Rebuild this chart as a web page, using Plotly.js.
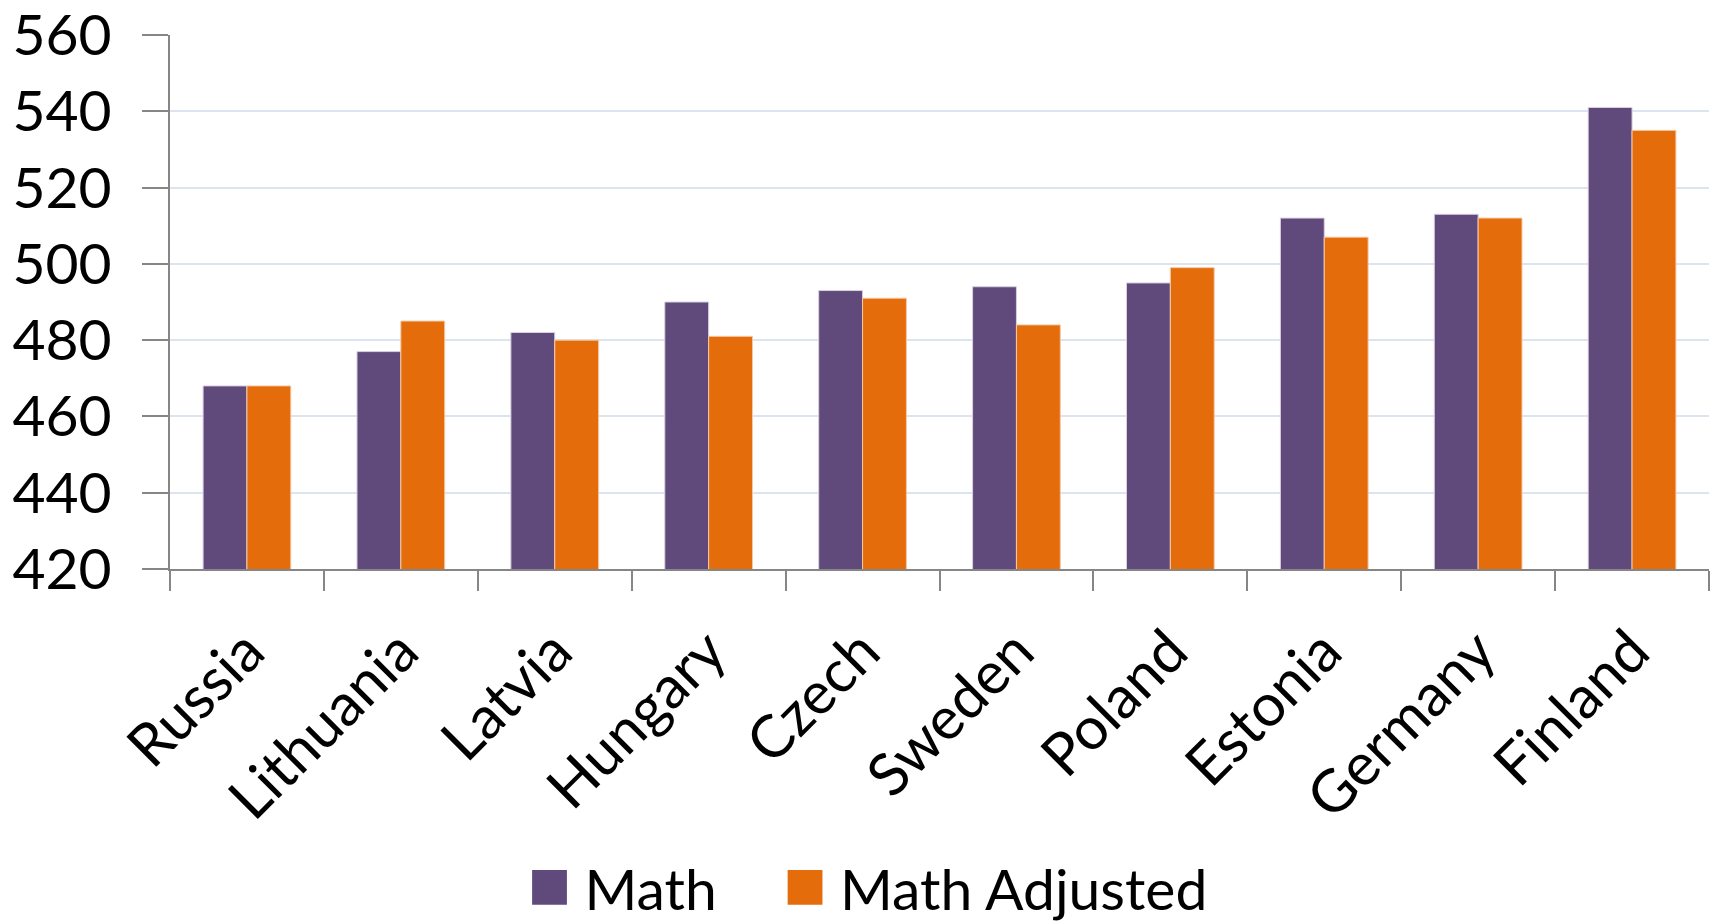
<!DOCTYPE html>
<html>
<head>
<meta charset="utf-8">
<script src="https://cdn.plot.ly/plotly-3.0.1.min.js"></script>
<style>
html,body{margin:0;padding:0;background:#fff;}
#chart{width:1715px;height:921px;}
</style>
</head>
<body>
<div id="chart"></div>
<script>
const countries = ["Russia","Lithuania","Latvia","Hungary","Czech","Sweden","Poland","Estonia","Germany","Finland"];
const mathScores = [468,477,482,490,493,494,495,512,513,541];
const mathAdjusted = [468,485,480,481,491,484,499,507,512,535];
const yTicks = [420,440,460,480,500,520,540,560];

const FONT = "Lato, 'Open Sans', sans-serif";

const traces = [
  {type:'bar', name:'Math', x:countries, y:mathScores, legend:'legend',
   marker:{color:'#604A7B', line:{color:'#D8D0E0', width:1}}},
  {type:'bar', name:'Math Adjusted', x:countries, y:mathAdjusted, legend:'legend2',
   marker:{color:'#E46C0A', line:{color:'#F6C9A6', width:1}}}
];

const legendBase = {orientation:'h', xref:'container', yref:'container', xanchor:'left', y:0.036, yanchor:'middle',
                    font:{family:FONT, size:57, color:'#000'}, bgcolor:'rgba(0,0,0,0)'};

const layout = {
  width:1715, height:921,
  margin:{l:170, r:6, t:35, b:352, autoexpand:false},
  paper_bgcolor:'#fff', plot_bgcolor:'#fff',
  barmode:'group', bargap:0.43, bargroupgap:0,
  font:{family:FONT, size:56, color:'#000'},
  showlegend:true,
  legend:Object.assign({}, legendBase, {x:0.3175}),
  legend2:Object.assign({}, legendBase, {x:0.4665}),
  xaxis:{type:'category', tickangle:-45, tickson:'boundaries', ticks:'outside', ticklen:20,
         tickcolor:'#868686', tickwidth:2, showline:true, linecolor:'#868686', linewidth:2,
         showgrid:false, automargin:false, ticklabelstandoff:22,
         tickfont:{family:FONT, size:59, color:'#000'}, fixedrange:true},
  yaxis:{range:[420,560], tickvals:yTicks, ticktext:yTicks.map(String), ticks:'outside', ticklen:26,
         tickcolor:'#868686', tickwidth:2, showline:true, linecolor:'#868686', linewidth:2,
         showgrid:true, gridcolor:'#DCE4F0', gridwidth:2, zeroline:false, automargin:false,
         ticklabelstandoff:19, ticklabeloverflow:'allow',
         tickfont:{family:FONT, size:57, color:'#000'}, fixedrange:true}
};

Plotly.newPlot('chart', traces, layout, {displayModeBar:false, staticPlot:true}).then(function(){
  document.querySelectorAll('g.legend, g.legend2').forEach(function(lg){
    lg.querySelectorAll('[clip-path]').forEach(function(el){ el.removeAttribute('clip-path'); });
    lg.querySelectorAll('.legendpoints path').forEach(function(p){
      p.setAttribute('transform', 'translate(5,0) scale(2.9)');
      p.style.strokeWidth = '0px';
    });
  });
});
</script>
</body>
</html>
